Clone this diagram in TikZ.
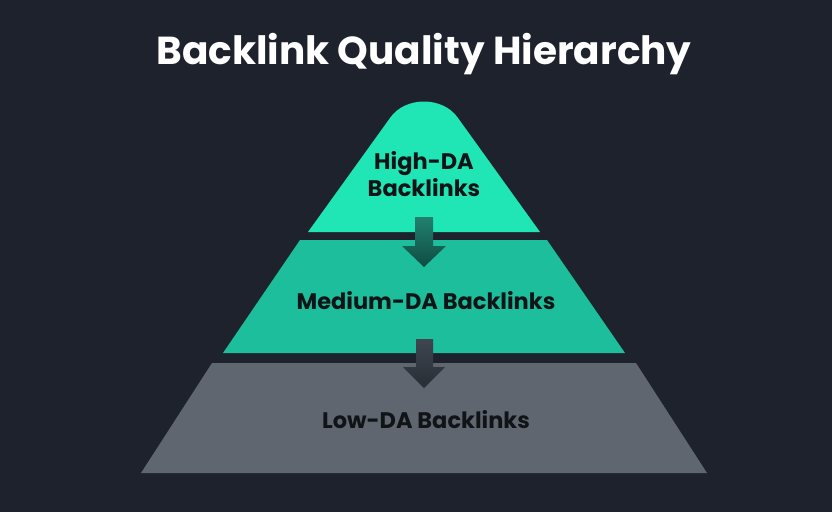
\documentclass[tikz,border=0pt]{standalone}
\usepackage{fontspec}
\setmainfont{Poppins}
\usetikzlibrary{positioning}

\definecolor{bgdark}{HTML}{1E222C}
\definecolor{tierhigh}{HTML}{20E6B6}
\definecolor{tiermid}{HTML}{1CBE9C}
\definecolor{tierlow}{HTML}{5F6670}
\definecolor{labelink}{HTML}{111417}
\definecolor{arrowtealtop}{HTML}{22806E}
\definecolor{arrowtealbot}{HTML}{0F4C43}
\definecolor{arrowslatetop}{HTML}{3E464F}
\definecolor{arrowslatebot}{HTML}{272D35}

\tikzset{
  tierlabel/.style={text=labelink, font=\bfseries\fontsize{22.5}{27}\selectfont, align=center},
  titletext/.style={text=white, font=\bfseries\fontsize{39}{44}\selectfont},
}

\begin{document}
\begin{tikzpicture}[x=1pt, y=-1pt]

\fill[bgdark] (0,0) rectangle (832,512);
\useasboundingbox (0,0) rectangle (832,512);

\node[titletext] (title) at (424,54) {Backlink Quality Hierarchy};

% tiers
\fill[tierhigh] (308,232) -- (390,118) .. controls (405,96) and (443,96) .. (458,118) -- (540,232) -- cycle;
\fill[tiermid] (300,240) -- (547,240) -- (625,353) -- (223,353) -- cycle;
\fill[tierlow] (212,363) -- (636,363) -- (707,473) -- (141,473) -- cycle;

% arrows between tiers
\shade[top color=arrowtealtop, bottom color=arrowtealbot]
  (415,217) -- (433,217) -- (433,246) -- (446,246) -- (424,267) -- (402,246) -- (415,246) -- cycle;
\shade[top color=arrowslatetop, bottom color=arrowslatebot]
  (416,339) -- (433,339) -- (433,367) -- (445,367) -- (424,388) -- (403,367) -- (416,367) -- cycle;

\node[tierlabel] (high) at (424,174) {High-DA\\Backlinks};
\node[tierlabel] (medium) at (426,301) {Medium-DA Backlinks};
\node[tierlabel] (low) at (426,420) {Low-DA Backlinks};

\end{tikzpicture}
\end{document}
